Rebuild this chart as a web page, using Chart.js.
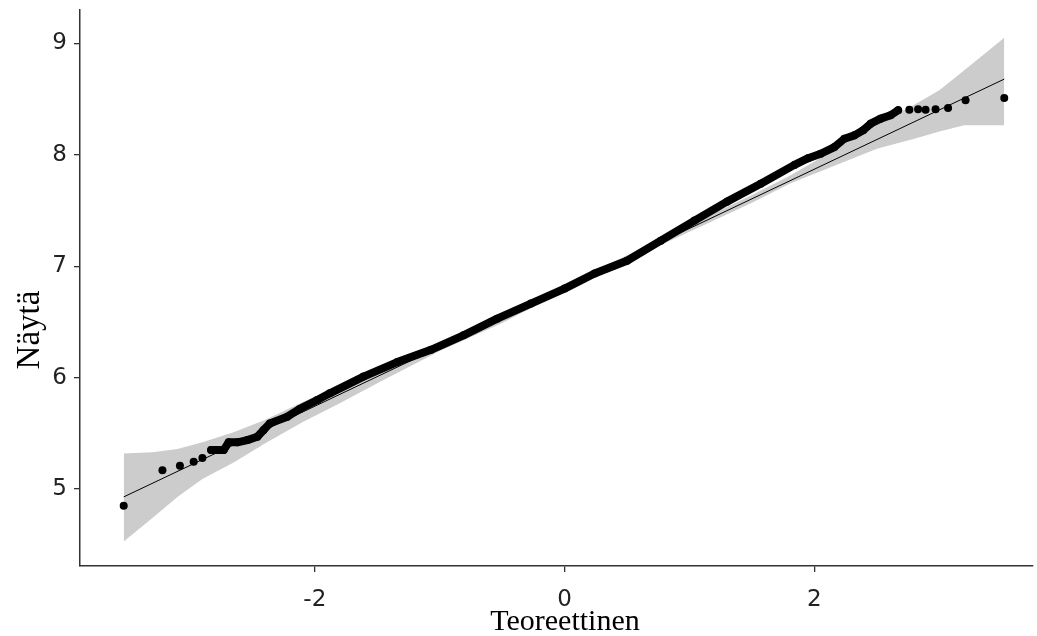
<!DOCTYPE html>
<html>
<head>
<meta charset="utf-8">
<script src="https://cdn.jsdelivr.net/npm/chart.js@4"></script>
<style>
  html, body { margin: 0; padding: 0; background: #fff; }
  #wrap { width: 1037px; height: 636px; }
</style>
</head>
<body>
<div id="wrap"><canvas id="myChart"></canvas></div>
<script>
// teoreettiset kvantiilit ja näytteen arvot (luettu kuvasta)
const teoreettinen = [-3.53, -3.22, -3.08, -2.97, -2.90, -2.83, -2.77, -2.73, -2.69, -2.62, -2.54, -2.46, -2.41, -2.36, -2.22, -2.12, -1.98, -1.88,
  -1.61, -1.34, -1.07, -0.81, -0.54, -0.27, 0.00, 0.24, 0.50, 0.77, 1.04, 1.30, 1.57, 1.84, 1.95, 2.05, 2.16, 2.24, 2.32, 2.39, 2.45, 2.53,
  2.61, 2.67, 2.76, 2.83, 2.89, 2.97, 3.07, 3.21, 3.52];
const naytto = [4.85, 5.17, 5.21, 5.245, 5.28, 5.35, 5.35, 5.35, 5.42, 5.42, 5.44, 5.47, 5.53, 5.59, 5.65, 5.72, 5.80, 5.86,
  6.01, 6.14, 6.25, 6.38, 6.53, 6.665, 6.80, 6.935, 7.05, 7.23, 7.41, 7.58, 7.74, 7.91, 7.97, 8.01, 8.07, 8.145, 8.175, 8.22, 8.28, 8.325,
  8.355, 8.40, 8.405, 8.41, 8.405, 8.41, 8.42, 8.49, 8.51];

// qq-viiva
const viivaX = [-3.53, 3.52];
const viivaY = [4.93, 8.68];

// luottamusvyö
const vyoX = [-3.53, -3.3, -3.1, -2.9, -2.65, -2.4, -2.1, -1.8, -1.5, -1.0, -0.5, 0, 0.5, 1.0, 1.5, 1.8, 2.2, 2.5, 2.8, 3.0, 3.2, 3.52];
const vyoYla = [5.32, 5.33, 5.36, 5.42, 5.51, 5.62, 5.78, 5.93, 6.06, 6.31, 6.57, 6.835, 7.10, 7.37, 7.64, 7.81, 8.07, 8.27, 8.45, 8.58, 8.76, 9.05];
const vyoAla = [4.53, 4.74, 4.93, 5.09, 5.24, 5.41, 5.60, 5.77, 5.95, 6.24, 6.49, 6.78, 7.05, 7.31, 7.57, 7.74, 7.92, 8.055, 8.145, 8.21, 8.265, 8.265];

const xTicks = [-2, 0, 2];
const yTicks = [5, 6, 7, 8, 9];

// tiheä osa pisteistä piirretään paksuna viivana
const tiheaAlku = -2.85;
const tiheaLoppu = 2.70;
const inDense = v => v >= tiheaAlku && v <= tiheaLoppu;

const toPts = (xs, ys) => xs.map((x, i) => ({ x: x, y: ys[i] }));

const axisColor = '#333333';
const tickFont = { family: '"DejaVu Sans", sans-serif', size: 23 };

// otsikot itse, koska y-otsikko ei ole keskellä
const titlePlugin = {
  id: 'titles',
  afterDraw(chart) {
    const c = chart.ctx;
    c.save();
    c.fillStyle = '#000';
    c.font = '30px "Liberation Serif", serif';
    c.textAlign = 'center';
    c.textBaseline = 'alphabetic';
    c.fillText('Teoreettinen', 565, 630);
    c.translate(39, 330);
    c.rotate(-Math.PI / 2);
    c.font = '33px "Liberation Serif", serif';
    c.fillText('Näytä', 0, 0);
    c.restore();
  }
};

// ei ylimääräistä tilaa tick-tekstien takia
const noPad = axis => {
  axis.paddingTop = 0;
  axis.paddingBottom = 0;
  axis.paddingLeft = 0;
  axis.paddingRight = 0;
};

const ctx = document.getElementById('myChart');

const myChart = new Chart(ctx, {
  type: 'scatter',
  data: {
    datasets: [
      {
        label: 'pisteet',
        data: toPts(teoreettinen, naytto),
        showLine: true,
        borderWidth: 8,
        borderCapStyle: 'round',
        borderJoinStyle: 'round',
        segment: {
          borderColor: s => (inDense(s.p0.parsed.x) && inDense(s.p1.parsed.x)) ? '#000' : 'rgba(0,0,0,0)'
        },
        borderColor: '#000',
        pointRadius: 4,
        pointBorderWidth: 0,
        pointBackgroundColor: '#000',
        order: 0
      },
      {
        label: 'viiva',
        data: toPts(viivaX, viivaY),
        showLine: true,
        borderColor: '#000',
        borderWidth: 1,
        pointRadius: 0,
        order: 1
      },
      {
        label: 'yla',
        data: toPts(vyoX, vyoYla),
        showLine: true,
        borderWidth: 0,
        borderColor: 'rgba(0,0,0,0)',
        backgroundColor: '#cccccc',
        pointRadius: 0,
        fill: '+1',
        order: 2
      },
      {
        label: 'ala',
        data: toPts(vyoX, vyoAla),
        showLine: true,
        borderWidth: 0,
        borderColor: 'rgba(0,0,0,0)',
        pointRadius: 0,
        fill: false,
        order: 3
      }
    ]
  },
  options: {
    responsive: true,
    maintainAspectRatio: false,
    animation: false,
    layout: { padding: { top: 10, right: 0, left: 0, bottom: 0 } },
    plugins: {
      legend: { display: false },
      tooltip: { enabled: false }
    },
    scales: {
      x: {
        type: 'linear',
        min: -3.88,
        max: 3.75,
        afterBuildTicks: axis => { axis.ticks = xTicks.map(v => ({ value: v })); },
        afterFit: axis => { axis.height = 70; noPad(axis); },
        grid: { drawOnChartArea: false, drawTicks: true, tickLength: 6, color: axisColor, lineWidth: 1.3 },
        border: { display: true, color: axisColor, width: 1.5 },
        ticks: { color: '#222', font: tickFont, padding: 14, maxRotation: 0 }
      },
      y: {
        type: 'linear',
        min: 4.31,
        max: 9.30,
        afterBuildTicks: axis => { axis.ticks = yTicks.map(v => ({ value: v })); },
        afterFit: axis => { axis.width = 80; noPad(axis); },
        grid: { drawOnChartArea: false, drawTicks: true, tickLength: 6, color: axisColor, lineWidth: 1.3 },
        border: { display: true, color: axisColor, width: 1.5 },
        ticks: { color: '#222', font: tickFont, padding: 7 }
      }
    }
  },
  plugins: [titlePlugin]
});
</script>
</body>
</html>
